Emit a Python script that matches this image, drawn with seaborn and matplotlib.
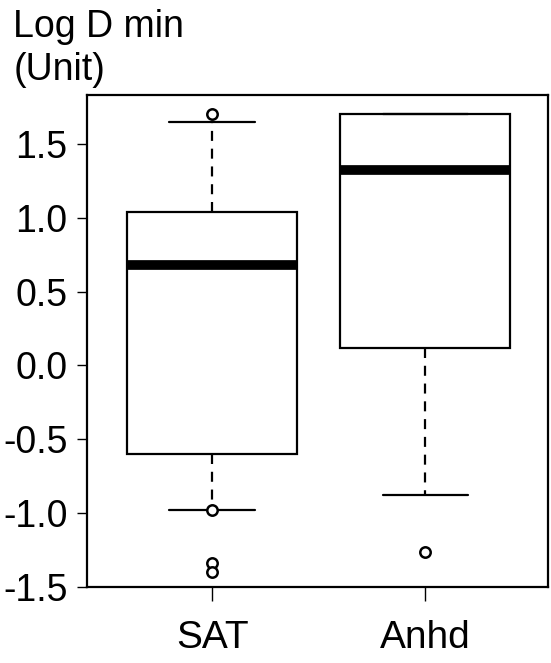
"""Box plot of Log D min for SAT vs Anhd groups."""

import matplotlib

matplotlib.use("Agg")
import matplotlib.pyplot as plt
import pandas as pd
import seaborn as sns

# Five-number summaries (min, Q1, median, Q3, max of whiskers)
groups = ["SAT", "Anhd"]
sat_core = [-0.98, -0.60, 0.68, 1.04, 1.65]
anhd_core = [-0.88, 0.12, 1.32, 1.70, 1.70]

# Points drawn as outliers
sat_outliers = [1.70, -0.98, -1.34, -1.40]
anhd_outliers = [-1.26]

y_ticks = [-1.5, -1.0, -0.5, 0.0, 0.5, 1.0, 1.5]

core_df = pd.DataFrame({
    "group": ["SAT"] * len(sat_core) + ["Anhd"] * len(anhd_core),
    "value": sat_core + anhd_core,
})
out_df = pd.DataFrame({
    "group": ["SAT"] * len(sat_outliers) + ["Anhd"] * len(anhd_outliers),
    "value": sat_outliers + anhd_outliers,
})

sns.set_style("ticks")
plt.rcParams["font.family"] = ["Liberation Sans", "DejaVu Sans"]
plt.rcParams["text.color"] = "black"

fig = plt.figure(figsize=(5.51, 6.63), dpi=100)
ax = fig.add_axes([0.158, 0.1146, 0.8366, 0.7421])

sns.boxplot(
    data=core_df, x="group", y="value", order=groups, ax=ax,
    whis=(0, 100), showfliers=False, width=0.8,
    color="white", linecolor="black", linewidth=1.6,
    medianprops=dict(linewidth=7, color="black"),
    whiskerprops=dict(linestyle=(0, (4.5, 3.5))),
)
sns.stripplot(
    data=out_df, x="group", y="value", order=groups, ax=ax,
    jitter=False, color="white", edgecolor="black", linewidth=1.8, size=7.5,
    zorder=5,
)

ax.set_xlim(-0.587, 1.577)
ax.set_ylim(-1.5, 1.83)
ax.set_yticks(y_ticks)
ax.set_yticklabels([f"{v:.1f}" for v in y_ticks])
ax.set_xlabel("")
ax.set_ylabel("")

for spine in ax.spines.values():
    spine.set_visible(True)
    spine.set_linewidth(1.6)
    spine.set_color("black")

ax.tick_params(axis="y", labelsize=27, length=7, width=1, pad=7, colors="black")
ax.tick_params(axis="x", labelsize=28, length=10, width=1, pad=13.5, colors="black")

fig.text(0.024, 0.944, "Log D min", fontsize=27, ha="left", va="baseline")
fig.text(0.024, 0.879, "(Unit)", fontsize=27, ha="left", va="baseline")

fig.savefig("out.png", dpi=100)
plt.close(fig)
